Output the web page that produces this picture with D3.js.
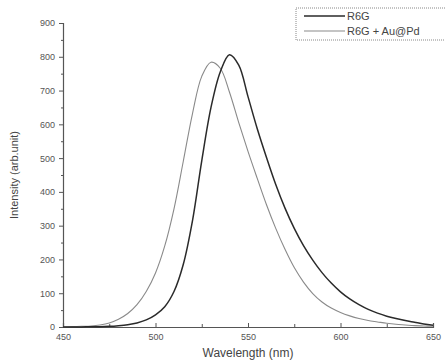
<!DOCTYPE html>
<html>
<head>
<meta charset="utf-8">
<script src="https://cdn.jsdelivr.net/npm/d3@7"></script>
<style>
  body { margin: 0; background: #fff; }
  text { font-family: "Liberation Sans", Arial, sans-serif; }
</style>
</head>
<body>
<div id="chart-area"></div>
<script>
const wavelengths = d3.range(450, 651, 5);
const r6g = [0, 0, 0, 1, 1, 2, 4, 7, 12, 21, 36, 60, 105, 185, 315, 492, 650, 755, 806, 775,
             682, 587, 502, 422, 352, 292, 241, 198, 161, 130, 104, 83, 66, 52, 41, 32, 25, 19, 14, 9, 5];
const r6gAuPd = [0, 1, 2, 3, 6, 12, 23, 40, 66, 105, 160, 240, 350, 490, 632, 742, 784, 766, 695, 605,
                 520, 440, 362, 292, 230, 176, 133, 99, 74, 56, 43, 33, 25, 19, 15, 11, 8, 6, 4, 3, 2];
const seriesNames = ["R6G", "R6G + Au@Pd"];
const yTicks = [0, 100, 200, 300, 400, 500, 600, 700, 800, 900];
const xTicks = [450, 500, 550, 600, 650];

const svgWidth = 445, svgHeight = 361;
const margin = { left: 63, right: 12, top: 23, bottom: 34 };
const width = svgWidth - margin.left - margin.right;
const height = svgHeight - margin.top - margin.bottom;

const svg = d3.select("#chart-area")
              .append("svg")
              .attr("width", svgWidth)
              .attr("height", svgHeight);
const g = svg.append("g")
             .attr("transform", `translate(${margin.left},${margin.top})`);

const x = d3.scaleLinear().domain([450, 650]).range([0, width]);
const y = d3.scaleLinear().domain([0, 900]).range([height, 0]);

// minor ticks
g.append("g")
 .attr("transform", `translate(0, ${height})`)
 .call(d3.axisBottom(x).tickValues(d3.range(475, 650, 50)).tickSize(-3).tickFormat(""))
 .call(a => a.select(".domain").remove());
g.append("g")
 .call(d3.axisLeft(y).tickValues(d3.range(50, 900, 100)).tickSize(2).tickFormat(""))
 .call(a => a.select(".domain").remove());

const xAxis = g.append("g")
 .attr("class", "x axis")
 .attr("transform", `translate(0, ${height})`)
 .call(d3.axisBottom(x).tickValues(xTicks).tickSize(-4).tickPadding(7));
const yAxis = g.append("g")
 .attr("class", "y axis")
 .call(d3.axisLeft(y).tickValues(yTicks).tickSize(4).tickPadding(4));

g.selectAll(".tick line").attr("stroke", "#555");
g.selectAll(".domain").attr("stroke", "#555").attr("stroke-width", 1.2);
g.selectAll(".tick text").attr("fill", "#555").attr("font-size", 9);

const line = vals => d3.line()
  .x((d, i) => x(wavelengths[i]))
  .y(d => y(d))
  .curve(d3.curveCatmullRom.alpha(0.5))(vals);

g.append("path")
 .attr("d", line(r6gAuPd))
 .attr("fill", "none")
 .attr("stroke", "#8a8a8a")
 .attr("stroke-width", 1.1);
g.append("path")
 .attr("d", line(r6g))
 .attr("fill", "none")
 .attr("stroke", "#2a2a2a")
 .attr("stroke-width", 1.5);

// legend
const legend = svg.append("g").attr("transform", "translate(296,8)");
legend.append("rect")
 .attr("width", 152).attr("height", 32)
 .attr("fill", "none").attr("stroke", "#888")
 .attr("stroke-dasharray", "1,1");
[["#2a2a2a", 1.5], ["#8a8a8a", 1.1]].forEach((s, i) => {
  legend.append("line")
   .attr("x1", 8).attr("x2", 49)
   .attr("y1", 8 + i * 15).attr("y2", 8 + i * 15)
   .attr("stroke", s[0]).attr("stroke-width", s[1]);
  legend.append("text")
   .attr("x", 51).attr("y", 12 + i * 15)
   .attr("font-size", 11).attr("fill", "#444")
   .text(seriesNames[i]);
});

svg.append("text")
   .attr("x", margin.left + width / 2)
   .attr("y", svgHeight - 4)
   .attr("text-anchor", "middle")
   .attr("font-size", 12).attr("fill", "#444")
   .text("Wavelength (nm)");

svg.append("text")
   .attr("x", -175)
   .attr("y", 18)
   .attr("text-anchor", "middle")
   .attr("transform", "rotate(-90)")
   .attr("font-size", 11).attr("fill", "#444")
   .text("Intensity (arb.unit)");
</script>
</body>
</html>
